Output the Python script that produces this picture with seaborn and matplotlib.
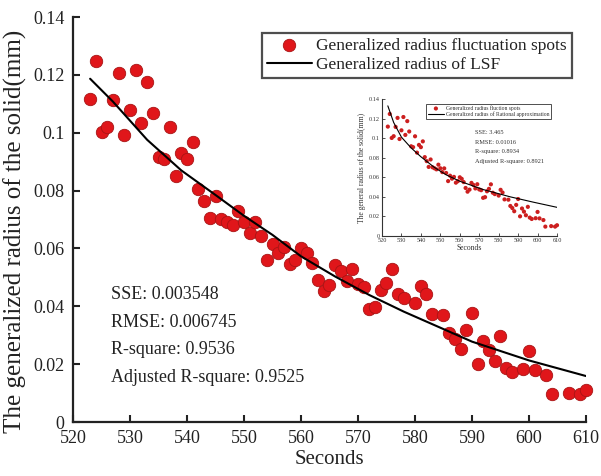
import numpy as np
import pandas as pd
import matplotlib
matplotlib.use("Agg")
import matplotlib.pyplot as plt
from matplotlib.ticker import FuncFormatter
import seaborn as sns

# ---- data ----
seconds = [523, 524, 525, 526, 527, 528, 529, 530, 531, 532, 533, 534, 535, 536,
           537, 538, 539, 540, 541, 542, 543, 544, 545, 546, 547, 548, 549, 550,
           551, 552, 553, 554, 555, 556, 557, 558, 559, 560, 561, 562, 563, 564,
           565, 566, 567, 568, 569, 570, 571, 572, 573, 574, 575, 576, 577, 578,
           580, 581, 582, 583, 585, 586, 587, 588, 589, 590, 591, 592, 593, 594,
           595, 596, 597, 599, 600, 601, 603, 604, 607, 609, 610]
radius = [0.1118, 0.1247, 0.1002, 0.1020, 0.1115, 0.1207, 0.0991, 0.1080, 0.1216,
          0.1033, 0.1174, 0.1068, 0.0917, 0.0908, 0.1019, 0.0852, 0.0931, 0.0908,
          0.0967, 0.0806, 0.0765, 0.0706, 0.0782, 0.0702, 0.0692, 0.0681, 0.0729,
          0.0692, 0.0653, 0.0691, 0.0644, 0.0561, 0.0616, 0.0586, 0.0604, 0.0545,
          0.0560, 0.0600, 0.0584, 0.0551, 0.0491, 0.0453, 0.0474, 0.0543, 0.0522,
          0.0486, 0.0529, 0.0476, 0.0468, 0.0390, 0.0397, 0.0457, 0.0482, 0.0528,
          0.0442, 0.0428, 0.0413, 0.0472, 0.0444, 0.0374, 0.0371, 0.0307, 0.0286,
          0.0253, 0.0318, 0.0378, 0.0201, 0.0281, 0.0249, 0.0212, 0.0298, 0.0188,
          0.0174, 0.0182, 0.0246, 0.0180, 0.0163, 0.0096, 0.0101, 0.0096, 0.0110]

# least-squares fit curve
lsf_x = [523, 527, 533, 539, 545, 550, 555, 560, 566, 572, 578, 584, 590, 600, 610]
lsf_y = [0.1187, 0.1108, 0.0976, 0.0870, 0.0785, 0.0713, 0.0647, 0.0573, 0.0503,
         0.0439, 0.0382, 0.0330, 0.0278, 0.0213, 0.0159]

# rational approximation curve of the inset
rat_x = [523, 526, 530, 535, 540, 547, 553, 560, 572, 586, 598, 610]
rat_y = [0.133, 0.116, 0.101, 0.090, 0.081, 0.070, 0.0625, 0.0560, 0.0475,
         0.0400, 0.0345, 0.0293]

x_ticks = [520, 530, 540, 550, 560, 570, 580, 590, 600, 610]
y_ticks = [0, 0.02, 0.04, 0.06, 0.08, 0.10, 0.12, 0.14]

main_stats = ["SSE: 0.003548", "RMSE: 0.006745", "R-square: 0.9536",
              "Adjusted R-square: 0.9525"]
inset_stats = ["SSE: 3.465", "RMSE: 0.01016", "R-square: 0.8934",
               "Adjusted R-square: 0.8921"]

pts = pd.DataFrame({"Seconds": seconds, "radius": radius})
lsf = pd.DataFrame({"Seconds": lsf_x, "radius": lsf_y})
rat = pd.DataFrame({"Seconds": rat_x, "radius": rat_y})

sns.set_style("ticks")
plt.rcParams["font.family"] = ["Liberation Serif", "DejaVu Serif"]
plt.rcParams["mathtext.fontset"] = "stix"

TXT = "#222222"
fig = plt.figure(figsize=(6.01, 4.76), dpi=100)
ax = fig.add_axes([0.1215, 0.1134, 0.8535, 0.8506])

sns.scatterplot(data=pts, x="Seconds", y="radius", ax=ax, s=80, color="#e0161a",
                edgecolor="#a81414", linewidth=0.6, clip_on=False, zorder=3,
                label="Generalized radius fluctuation spots")
sns.lineplot(data=lsf, x="Seconds", y="radius", ax=ax, color="black", lw=1.5,
             zorder=4, label="Generalized radius of LSF")

fmt = FuncFormatter(lambda v, p: "%g" % round(v, 4))
ax.set_xlim(520, 610)
ax.set_ylim(0, 0.14)
ax.set_xticks(x_ticks)
ax.set_yticks(y_ticks)
ax.yaxis.set_major_formatter(fmt)
ax.tick_params(direction="in", length=5, width=1.5, labelsize=13, colors=TXT,
               pad=6)
for s in ["top", "right"]:
    ax.spines[s].set_visible(False)
for s in ["left", "bottom"]:
    ax.spines[s].set_linewidth(1.6)
    ax.spines[s].set_color(TXT)
ax.set_xlabel("Seconds", fontsize=15, color=TXT, labelpad=2)
ax.set_ylabel("The generalized radius of the solid(mm)", fontsize=18, color=TXT)
ax.yaxis.set_label_coords(-0.09, 0.47)

leg = ax.legend(loc="upper right", bbox_to_anchor=(0.973, 0.962), fontsize=12.5,
                frameon=True, fancybox=False, handlelength=2.6, handletextpad=0.25,
                borderpad=0.3, labelspacing=0.15, markerscale=1.0,
                borderaxespad=0)
leg.get_frame().set_edgecolor("#222222")
leg.get_frame().set_linewidth(1.6)
for t in leg.get_texts():
    t.set_color(TXT)

for i, s in enumerate(main_stats):
    ax.text(0.074, 0.316 - i * 0.069, s, transform=ax.transAxes, fontsize=13,
            color=TXT, va="center", ha="left")

# ---- inset ----
ICOL = "#333333"
ins = fig.add_axes([0.6356, 0.5042, 0.2912, 0.2878])
sns.scatterplot(data=pts, x="Seconds", y="radius", ax=ins, s=9, color="#cc1f1f",
                edgecolor="none", clip_on=False, zorder=3,
                label="Generalized radius fluction spots")
sns.lineplot(data=rat, x="Seconds", y="radius", ax=ins, color="black", lw=0.8,
             zorder=4, label="Generalized radius of Rational approximation")
ins.set_xlim(520, 610)
ins.set_ylim(0, 0.14)
ins.set_xticks(x_ticks)
ins.set_yticks(y_ticks)
ins.yaxis.set_major_formatter(fmt)
ins.tick_params(direction="in", length=2, width=0.6, labelsize=4.5, colors=ICOL,
                pad=1.5)
for s in ["top", "right"]:
    ins.spines[s].set_visible(False)
for s in ["left", "bottom"]:
    ins.spines[s].set_linewidth(0.8)
    ins.spines[s].set_color(ICOL)
ins.set_xlabel("Seconds", fontsize=5.5, color=ICOL, labelpad=1)
ins.set_ylabel("The general radius of the solid(mm)", fontsize=5.5, color=ICOL,
               labelpad=2)
il = ins.legend(loc="upper right", bbox_to_anchor=(0.966, 0.964), fontsize=4.1,
                frameon=True, fancybox=False, handlelength=2.8, handletextpad=0.4,
                borderpad=0.25, labelspacing=0.1, borderaxespad=0)
il.get_frame().set_edgecolor("#222222")
il.get_frame().set_linewidth(0.7)
for t in il.get_texts():
    t.set_color(ICOL)
for i, s in enumerate(inset_stats):
    ins.text(0.53, 0.754 - i * 0.070, s, transform=ins.transAxes, fontsize=4.6,
             color=ICOL, va="center", ha="left")

fig.savefig("out.png", dpi=100)
